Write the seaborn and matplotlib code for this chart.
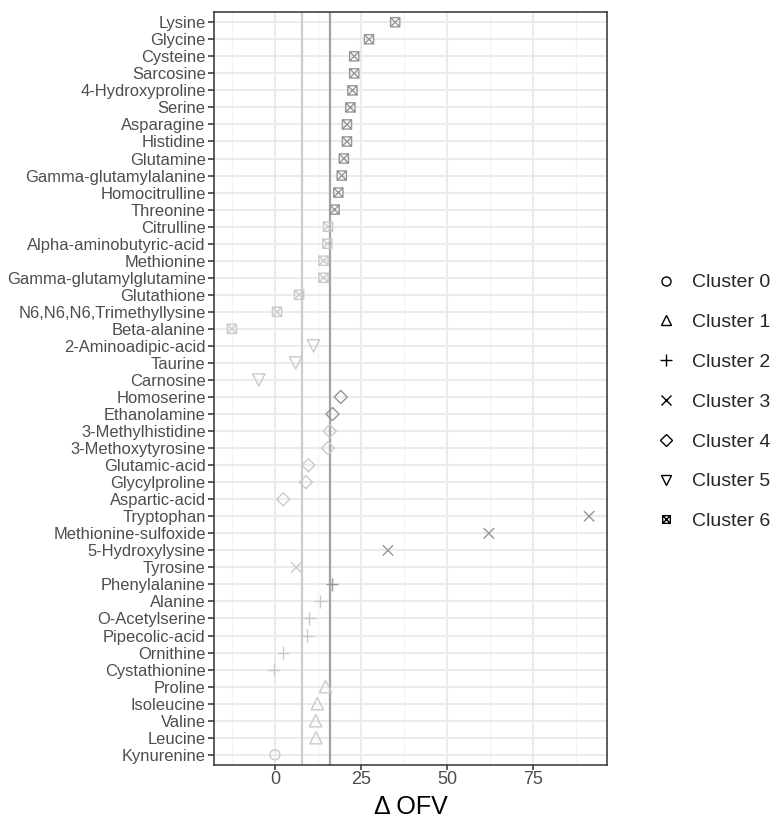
import matplotlib
matplotlib.use("Agg")
import matplotlib.pyplot as plt
from matplotlib.path import Path
from matplotlib.lines import Line2D
import seaborn as sns
import pandas as pd
import numpy as np

metabolites = [
    "Lysine", "Glycine", "Cysteine", "Sarcosine", "4-Hydroxyproline", "Serine",
    "Asparagine", "Histidine", "Glutamine", "Gamma-glutamylalanine", "Homocitrulline",
    "Threonine", "Citrulline", "Alpha-aminobutyric-acid", "Methionine",
    "Gamma-glutamylglutamine", "Glutathione", "N6,N6,N6,Trimethyllysine", "Beta-alanine",
    "2-Aminoadipic-acid", "Taurine", "Carnosine", "Homoserine", "Ethanolamine",
    "3-Methylhistidine", "3-Methoxytyrosine", "Glutamic-acid", "Glycylproline",
    "Aspartic-acid", "Tryptophan", "Methionine-sulfoxide", "5-Hydroxylysine", "Tyrosine",
    "Phenylalanine", "Alanine", "O-Acetylserine", "Pipecolic-acid", "Ornithine",
    "Cystathionine", "Proline", "Isoleucine", "Valine", "Leucine", "Kynurenine",
]
delta_ofv = [
    34.9, 27.3, 23.0, 23.0, 22.5, 21.9,
    20.9, 20.9, 20.0, 19.4, 18.4,
    17.3, 15.4, 15.2, 14.1,
    14.1, 7.0, 0.6, -12.5,
    11.2, 6.0, -4.7, 19.1, 16.7,
    15.9, 15.4, 9.7, 9.0,
    2.4, 91.2, 62.1, 32.8, 6.2,
    16.6, 13.2, 10.0, 9.4, 2.3,
    -0.4, 14.7, 12.3, 11.8, 11.9, 0.0,
]
cluster = [
    6, 6, 6, 6, 6, 6,
    6, 6, 6, 6, 6,
    6, 6, 6, 6,
    6, 6, 6, 6,
    5, 5, 5, 4, 4,
    4, 4, 4, 4,
    4, 3, 3, 3, 3,
    2, 2, 2, 2, 2,
    2, 1, 1, 1, 1, 0,
]
threshold_low = 7.8
threshold_high = 16.0
cluster_labels = ["Cluster 0", "Cluster 1", "Cluster 2", "Cluster 3",
                  "Cluster 4", "Cluster 5", "Cluster 6"]

# square with a cross (R shape 7)
sqx = Path(
    [(-1, -1), (1, -1), (1, 1), (-1, 1), (-1, -1), (-1, -1), (1, 1), (-1, 1), (1, -1)],
    [Path.MOVETO, Path.LINETO, Path.LINETO, Path.LINETO, Path.CLOSEPOLY,
     Path.MOVETO, Path.LINETO, Path.MOVETO, Path.LINETO],
)
markers = {0: "o", 1: "^", 2: "+", 3: "x", 4: "D", 5: "v", 6: sqx}
sizes = {0: 52, 1: 78, 2: 80, 3: 56, 4: 44, 5: 78, 6: 44}

n = len(metabolites)
df = pd.DataFrame({"metabolite": metabolites, "ofv": delta_ofv, "cluster": cluster})
df["pos"] = n - 1 - np.arange(n)
df["level"] = np.where(df["ofv"] > threshold_high, "high", "low")
palette = {"high": "#969696", "low": "#cacaca"}

sns.set_theme(style="white")
plt.rcParams["font.family"] = ["Liberation Sans", "DejaVu Sans"]

fig = plt.figure(figsize=(7.76, 8.23), dpi=100)
ax = fig.add_axes([214 / 776, 1 - 765 / 823, (607 - 214) / 776, (765 - 12) / 823])

# grid
for v in [-12.5, 12.5, 37.5, 62.5, 87.5]:
    ax.axvline(v, color="#f2f2f2", lw=0.8, zorder=0)
for v in [0, 25, 50, 75]:
    ax.axvline(v, color="#ebebeb", lw=1.5, zorder=0)
for p in df["pos"]:
    ax.axhline(p, color="#ebebeb", lw=1.5, zorder=0)

ax.axvline(threshold_low, color="#cccccc", lw=1.6, zorder=1)
ax.axvline(threshold_high, color="#a3a3a3", lw=1.6, zorder=1)

for c in sorted(df["cluster"].unique()):
    sub = df[df["cluster"] == c]
    before = len(ax.collections)
    sns.scatterplot(data=sub, x="ofv", y="pos", hue="level", palette=palette,
                    marker=markers[c], s=sizes[c], legend=False, ax=ax, zorder=3)
    for coll in ax.collections[before:]:
        fc = coll.get_facecolors()
        coll.set_edgecolors(fc)
        coll.set_facecolors("none")
        coll.set_linewidths(1.0)

ax.set_xlim(-17.7, 96.4)
ax.set_ylim(-0.6, n - 1 + 0.6)
ax.set_xticks([0, 25, 50, 75])
ax.set_xticklabels(["0", "25", "50", "75"])
ax.set_yticks(df["pos"])
ax.set_yticklabels(df["metabolite"])
ax.tick_params(axis="y", labelsize=11.9, labelcolor="#4d4d4d", length=4,
               width=1.1, color="#333333", pad=2, left=True)
ax.tick_params(axis="x", labelsize=13, labelcolor="#4d4d4d", length=3.5,
               width=1.1, color="#333333", pad=1, bottom=True)
ax.set_xlabel("Δ OFV", fontsize=18, color="black", labelpad=5)
ax.set_ylabel("")
for s in ax.spines.values():
    s.set_color("#333333")
    s.set_linewidth(1.1)

handles = []
for c in range(7):
    handles.append(Line2D([], [], marker=markers[c], linestyle="none",
                          markerfacecolor="none", markeredgecolor="black",
                          markeredgewidth=1.0,
                          markersize={0: 6.5, 1: 7.5, 2: 8, 3: 6.5, 4: 6.5, 5: 7.5, 6: 5.5}[c]))
fig.legend(handles, cluster_labels, loc="center left",
           bbox_to_anchor=(656 / 776, 1 - 402 / 823), frameon=False,
           fontsize=14, handlelength=1.0, handletextpad=0.85,
           labelspacing=1.14, borderpad=0, borderaxespad=0)

fig.savefig("out.png", dpi=100)
